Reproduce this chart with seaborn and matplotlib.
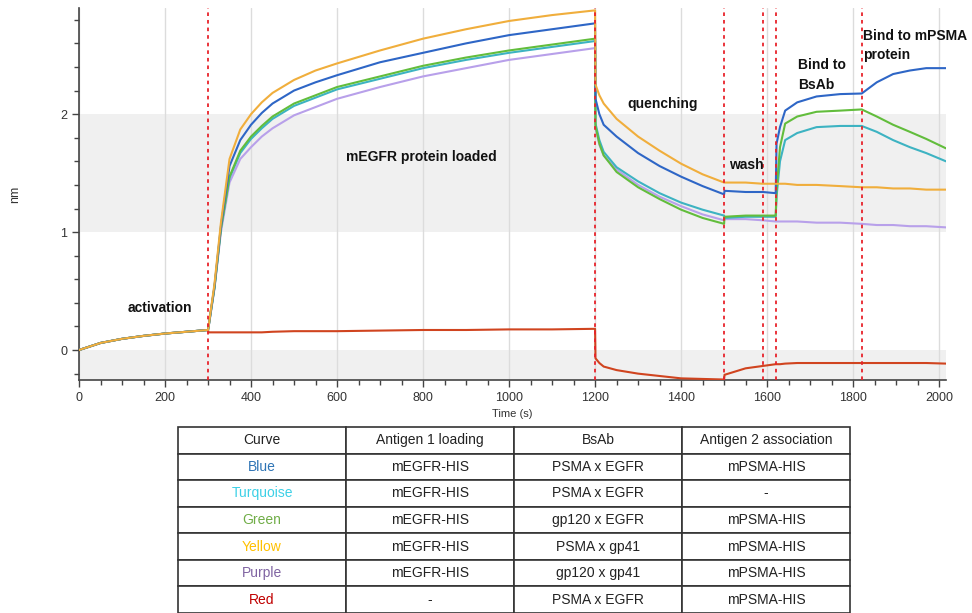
import numpy as np
import pandas as pd
import matplotlib
matplotlib.use('Agg')
import matplotlib.pyplot as plt
from matplotlib.ticker import MultipleLocator
import seaborn as sns

# --- data ---
time_s = [0, 50, 100, 150, 200, 250, 300, 301, 305, 315, 330, 350, 375, 400, 425,
          450, 500, 550, 600, 700, 800, 900, 1000, 1100, 1200, 1201, 1210, 1220, 1250, 1300,
          1350, 1400, 1450, 1500, 1501, 1550, 1590, 1620, 1622, 1630, 1642, 1670, 1715, 1770,
          1820, 1855, 1893, 1932, 1970, 2016]

red = [0, 0.06, 0.095, 0.12, 0.14, 0.155, 0.17, 0.15, 0.15, 0.15, 0.15, 0.15, 0.15, 0.15, 0.15,
       0.155, 0.16, 0.16, 0.16, 0.165, 0.17, 0.17, 0.175, 0.175, 0.18, -0.07, -0.11, -0.14, -0.17, -0.20,
       -0.22, -0.24, -0.245, -0.25, -0.21, -0.155, -0.135, -0.12, -0.12, -0.12, -0.115, -0.11, -0.11, -0.11,
       -0.11, -0.11, -0.11, -0.11, -0.11, -0.115]
purple = [0, 0.06, 0.095, 0.12, 0.14, 0.155, 0.17, 0.19, 0.28, 0.52, 1.00, 1.42, 1.62, 1.72, 1.81,
          1.88, 1.99, 2.06, 2.13, 2.23, 2.32, 2.39, 2.46, 2.51, 2.56, 1.88, 1.74, 1.65, 1.53, 1.40,
          1.30, 1.22, 1.15, 1.10, 1.11, 1.11, 1.10, 1.09, 1.09, 1.09, 1.09, 1.09, 1.08, 1.08,
          1.07, 1.06, 1.06, 1.05, 1.05, 1.04]
turquoise = [0, 0.06, 0.095, 0.12, 0.14, 0.155, 0.17, 0.19, 0.29, 0.53, 1.03, 1.46, 1.67, 1.79, 1.88,
             1.96, 2.07, 2.14, 2.21, 2.30, 2.39, 2.46, 2.52, 2.57, 2.62, 1.92, 1.78, 1.68, 1.55, 1.43,
             1.33, 1.25, 1.19, 1.14, 1.12, 1.13, 1.13, 1.13, 1.30, 1.60, 1.78, 1.84, 1.89, 1.90,
             1.90, 1.85, 1.78, 1.72, 1.67, 1.60]
green = [0, 0.06, 0.095, 0.12, 0.14, 0.155, 0.17, 0.19, 0.29, 0.53, 1.03, 1.47, 1.69, 1.81, 1.90,
         1.98, 2.09, 2.16, 2.23, 2.32, 2.41, 2.48, 2.54, 2.59, 2.64, 1.90, 1.75, 1.65, 1.51, 1.38,
         1.28, 1.19, 1.12, 1.07, 1.13, 1.14, 1.14, 1.14, 1.35, 1.72, 1.92, 1.98, 2.02, 2.03,
         2.04, 1.98, 1.91, 1.85, 1.79, 1.71]
blue = [0, 0.06, 0.095, 0.12, 0.14, 0.155, 0.17, 0.19, 0.29, 0.54, 1.05, 1.56, 1.78, 1.91, 2.01,
        2.09, 2.20, 2.27, 2.33, 2.44, 2.52, 2.60, 2.67, 2.72, 2.77, 2.13, 2.00, 1.91, 1.81, 1.67,
        1.56, 1.47, 1.39, 1.32, 1.35, 1.34, 1.34, 1.33, 1.75, 1.89, 2.03, 2.10, 2.15, 2.17,
        2.175, 2.27, 2.34, 2.37, 2.39, 2.39]
yellow = [0, 0.06, 0.095, 0.12, 0.14, 0.155, 0.17, 0.19, 0.30, 0.56, 1.08, 1.62, 1.87, 2.00, 2.10,
          2.18, 2.29, 2.37, 2.43, 2.54, 2.64, 2.72, 2.79, 2.84, 2.88, 2.25, 2.16, 2.09, 1.96, 1.81,
          1.69, 1.58, 1.49, 1.42, 1.42, 1.42, 1.41, 1.41, 1.41, 1.41, 1.41, 1.40, 1.40, 1.39,
          1.38, 1.38, 1.37, 1.37, 1.36, 1.36]

curve_names = ['Red', 'Purple', 'Turquoise', 'Green', 'Blue', 'Yellow']
curve_colors = ['#D0441F', '#B8A0EA', '#3DB3C2', '#62BD3C', '#2E66C6', '#F0AE3C']
step_times = [300, 1200, 1500, 1590, 1620, 1820]

step_labels = ['activation', 'mEGFR protein loaded', 'quenching', 'wash',
               'Bind to\nBsAb', 'Bind to mPSMA\nprotein']
label_pos = [(112, 0.36), (620, 1.64), (1275, 2.09), (1512, 1.57), (1672, 2.33), (1822, 2.58)]

table_header = ['Curve', 'Antigen 1 loading', 'BsAb', 'Antigen 2 association']
table_curve = ['Blue', 'Turquoise', 'Green', 'Yellow', 'Purple', 'Red']
table_ag1 = ['mEGFR-HIS', 'mEGFR-HIS', 'mEGFR-HIS', 'mEGFR-HIS', 'mEGFR-HIS', '-']
table_bsab = ['PSMA x EGFR', 'PSMA x EGFR', 'gp120 x EGFR', 'PSMA x gp41', 'gp120 x gp41', 'PSMA x EGFR']
table_ag2 = ['mPSMA-HIS', '-', 'mPSMA-HIS', 'mPSMA-HIS', 'mPSMA-HIS', 'mPSMA-HIS']
table_text_colors = ['#2E74B5', '#3CD0E6', '#70AD47', '#FFC000', '#8064A2', '#C00000']

# --- long-form frame ---
series = dict(zip(curve_names, [red, purple, turquoise, green, blue, yellow]))
df = pd.concat([pd.DataFrame({'Time': time_s, 'nm': v, 'curve': k}) for k, v in series.items()])

sns.set_style('ticks')
plt.rcParams['font.family'] = ['Liberation Sans', 'DejaVu Sans']

fig = plt.figure(figsize=(9.72, 6.13), dpi=100)
ax = fig.add_axes([79 / 972, 1 - 380 / 613, (946 - 79) / 972, (380 - 8) / 613])

# alternating shaded bands + vertical grid
ax.axhspan(1, 2, color='#F0F0F0', zorder=0, lw=0)
ax.axhspan(-1, 0, color='#F0F0F0', zorder=0, lw=0)
ax.xaxis.grid(True, color='#DCDCDC', lw=1, zorder=0.5)
ax.set_axisbelow(True)

sns.lineplot(data=df, x='Time', y='nm', hue='curve', hue_order=curve_names,
             palette=curve_colors, estimator=None, legend=False, lw=1.5, ax=ax, zorder=3)

for t in step_times:
    ax.axvline(t, color='#E8232B', ls=(0, (2, 2.2)), lw=1.3, zorder=4)

for txt, (x, y) in zip(step_labels, label_pos):
    ax.text(x, y, txt, fontsize=10, fontweight='bold', color='#111111',
            ha='left', va='center', linespacing=1.5, zorder=5)

ax.set_xlim(0, 2016)
ax.set_ylim(-0.254, 2.90)
ax.xaxis.set_major_locator(MultipleLocator(200))
ax.xaxis.set_minor_locator(MultipleLocator(50))
ax.yaxis.set_major_locator(MultipleLocator(1))
ax.yaxis.set_minor_locator(MultipleLocator(0.2))
ax.tick_params(which='major', length=5, width=1, color='#444444', labelsize=9, labelcolor='#333333')
ax.tick_params(which='minor', length=3.5, width=1, color='#444444')
for s in ['top', 'right']:
    ax.spines[s].set_visible(False)
for s in ['left', 'bottom']:
    ax.spines[s].set_color('#444444')
    ax.spines[s].set_linewidth(1.2)
ax.set_xlabel('Time (s)', fontsize=8, color='#333333', labelpad=4)
ax.set_ylabel('nm', fontsize=9, color='#333333', labelpad=28)

# --- table underneath ---
tax = fig.add_axes([178 / 972, 0.0, (850 - 178) / 972, (613 - 427) / 613])
tax.axis('off')
cells = [list(r) for r in zip(table_curve, table_ag1, table_bsab, table_ag2)]
tbl = tax.table(cellText=cells, colLabels=table_header, cellLoc='center', bbox=[0, 0, 1, 1])
tbl.auto_set_font_size(False)
for (r, c), cell in tbl.get_celld().items():
    cell.set_edgecolor('#333333')
    cell.set_linewidth(1.2)
    cell.get_text().set_fontsize(10)
    if r > 0 and c == 0:
        cell.get_text().set_color(table_text_colors[r - 1])
    else:
        cell.get_text().set_color('#222222')

fig.savefig('out.png', dpi=100)
